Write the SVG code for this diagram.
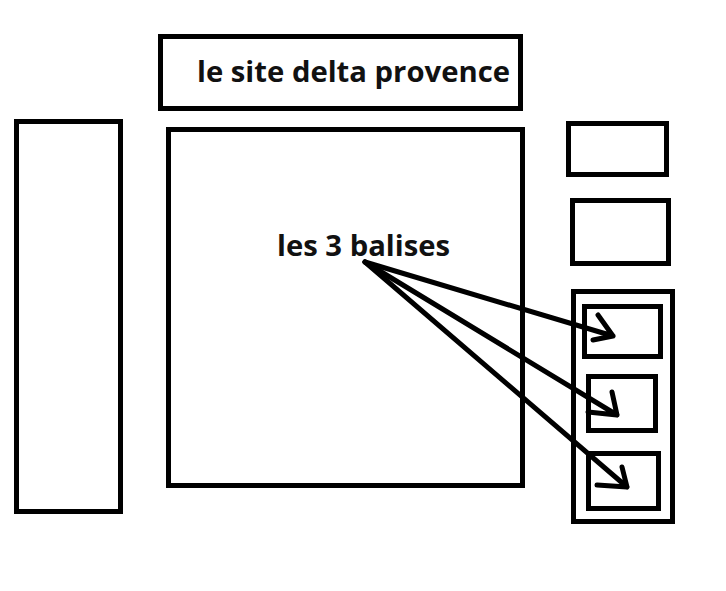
<svg xmlns="http://www.w3.org/2000/svg" width="726" height="591" viewBox="0 0 726 591">
<style>
.box{fill:none;stroke:#000;stroke-width:5}
.lbl{font-family:"Open Sans","Noto Sans","Liberation Sans",sans-serif;font-weight:bold;fill:#111}
.arr{fill:none;stroke:#000;stroke-width:5;stroke-linecap:round;stroke-linejoin:round}
</style>
<rect width="726" height="591" fill="#fff"/>
<g id="title"><rect class="box" x="160.5" y="36.5" width="360" height="72"/><text class="lbl" x="197" y="82" font-size="29" textLength="313" lengthAdjust="spacingAndGlyphs">le site delta provence</text></g>
<g id="left-panel"><rect class="box" x="16.5" y="121.5" width="104" height="390"/></g>
<g id="main"><rect class="box" x="168.5" y="129.5" width="354" height="356"/><text class="lbl" x="277" y="256" font-size="28" textLength="173" lengthAdjust="spacingAndGlyphs">les 3 balises</text></g>
<g id="right-top"><rect class="box" x="568.5" y="123.5" width="98" height="51"/></g>
<g id="right-mid"><rect class="box" x="572.5" y="200.5" width="96" height="63"/></g>
<g id="right-group"><rect class="box" x="573.5" y="291.5" width="99" height="230"/></g>
<g id="balise-1"><rect class="box" x="584.5" y="306.5" width="76" height="50"/></g>
<g id="balise-2"><rect class="box" x="588.5" y="376.5" width="67" height="54"/></g>
<g id="balise-3"><rect class="box" x="588.5" y="453.5" width="70" height="55"/></g>
<g id="connectors">
<path class="arr" d="M365 262 L613 336 M598 315 L613 336 L593 340"/>
<path class="arr" d="M365 262 L617 415 M612 392 L617 415 L588 412"/>
<path class="arr" d="M365 262 L627 487 M622 467 L627 487 L597 485"/>
</g>
</svg>
